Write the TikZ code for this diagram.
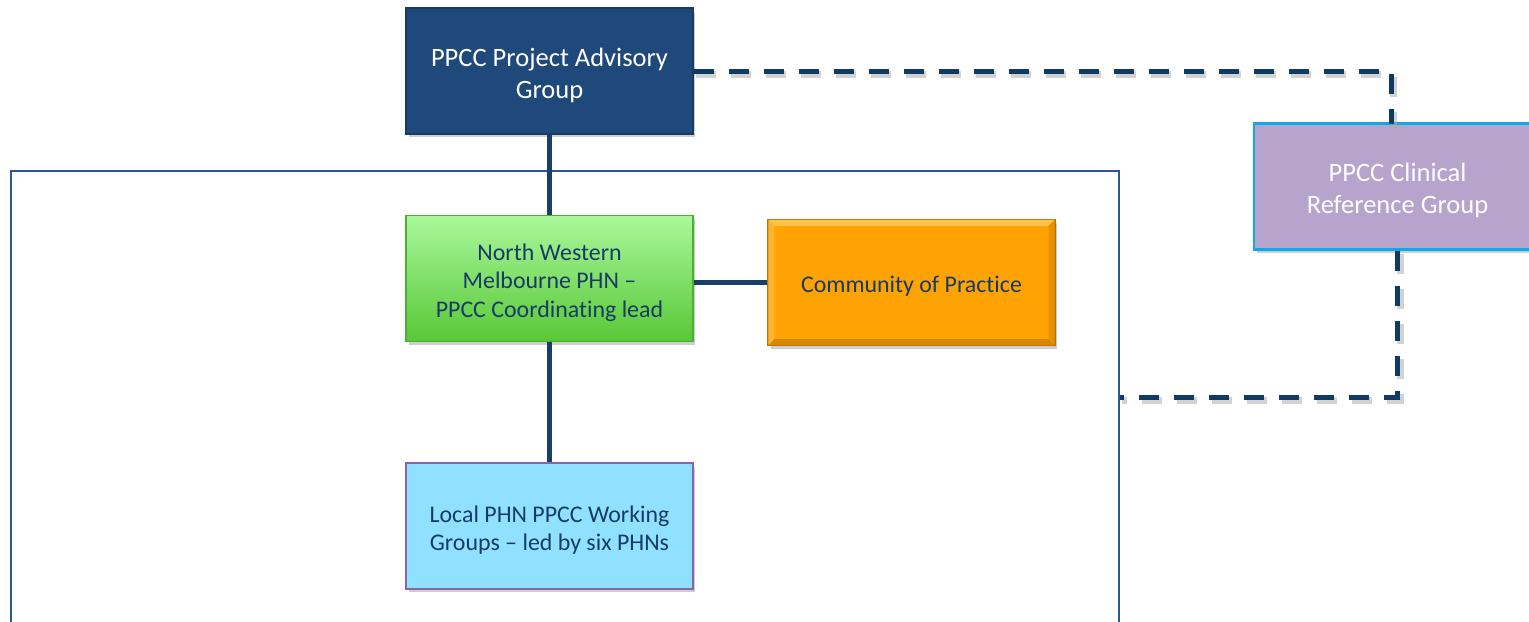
\documentclass[tikz,border=0pt]{standalone}
\usepackage{fontspec}
\setmainfont{Carlito}[Ligatures={NoCommon}]
\usetikzlibrary{shadows}
\definecolor{advblue}{HTML}{1F487B}
\definecolor{linkblue}{HTML}{173F68}
\definecolor{dashblue}{HTML}{0E3A63}
\definecolor{textnavy}{HTML}{163C66}
\definecolor{frameblue}{HTML}{2C5897}
\definecolor{greentop}{HTML}{AAF89C}
\definecolor{greenbot}{HTML}{58C736}
\definecolor{greenedge}{HTML}{4FAE31}
\definecolor{orangefill}{HTML}{FFA305}
\definecolor{orangelight}{HTML}{FFC24A}
\definecolor{orangedark}{HTML}{D98600}
\definecolor{orangeedge}{HTML}{B8740A}
\definecolor{skyfill}{HTML}{8FE1FF}
\definecolor{skyedge}{HTML}{8A63A8}
\definecolor{lilac}{HTML}{B6A4CC}
\definecolor{cyanedge}{HTML}{10A8E8}
\begin{document}
\begin{tikzpicture}[x=0.02cm,y=-0.02cm,
  box/.style={rectangle, minimum width=5.74cm, minimum height=2.52cm,
    inner sep=0pt, line width=0.8pt,
    drop shadow={shadow xshift=0.05cm, shadow yshift=-0.07cm, opacity=0.35, fill=black!55}},
  boxtext/.style={align=center, inner sep=0pt},
  bigtext/.style={boxtext, font=\fontsize{15.1}{18.2}\selectfont},
  smalltext/.style={boxtext, font=\fontsize{13.6}{16.2}\selectfont},
  link/.style={line width=0.1cm, draw=linkblue},
  dashlink/.style={line width=0.1cm, draw=dashblue, dash pattern=on 0.4cm off 0.3cm},
  dashshade/.style={line width=0.14cm, draw=black!35, opacity=0.5, dash pattern=on 0.4cm off 0.3cm}]
\useasboundingbox (0,0) rectangle (1529,622);
\fill[white] (0,0) rectangle (1529,622);

% outer frame around the PHN network
\node[rectangle, draw=frameblue, line width=0.04cm, fill=white, anchor=north west,
  minimum width=22.16cm, minimum height=9.6cm, inner sep=0pt,
  drop shadow={shadow xshift=0.03cm, shadow yshift=-0.06cm, opacity=0.25, fill=black!40}]
  (frame) at (10,170) {};

% boxes
\node[box, fill=advblue, draw=advblue!80!black] (pag) at (549.5,71) {};
\node[box, top color=greentop, bottom color=greenbot, draw=greenedge] (nwm) at (549.5,278.5) {};
\node[box, fill=orangefill, draw=orangeedge] (cop) at (911.5,282.5) {};
\node[box, fill=skyfill, draw=skyedge] (lwg) at (549.5,526) {};
\node[box, fill=lilac, draw=cyanedge, line width=1.2pt] (crg) at (1397.5,186.5) {};

% bevelled rim of the community box
\fill[orangelight] ([shift={(0.02cm,-0.02cm)}]cop.north west) -- ([shift={(-0.02cm,-0.02cm)}]cop.north east)
  -- ([shift={(-0.14cm,-0.14cm)}]cop.north east) -- ([shift={(0.14cm,-0.14cm)}]cop.north west) -- cycle;
\fill[orangelight!60!orangefill] ([shift={(0.02cm,-0.02cm)}]cop.north west) -- ([shift={(0.14cm,-0.14cm)}]cop.north west)
  -- ([shift={(0.14cm,0.14cm)}]cop.south west) -- ([shift={(0.02cm,0.02cm)}]cop.south west) -- cycle;
\fill[orangedark] ([shift={(0.02cm,0.02cm)}]cop.south west) -- ([shift={(-0.02cm,0.02cm)}]cop.south east)
  -- ([shift={(-0.14cm,0.14cm)}]cop.south east) -- ([shift={(0.14cm,0.14cm)}]cop.south west) -- cycle;
\fill[orangedark!60!orangefill] ([shift={(-0.02cm,-0.02cm)}]cop.north east) -- ([shift={(-0.14cm,-0.14cm)}]cop.north east)
  -- ([shift={(-0.14cm,0.14cm)}]cop.south east) -- ([shift={(-0.02cm,0.02cm)}]cop.south east) -- cycle;

% box texts
\node[bigtext, text=white] (pag-txt) at ([yshift=-0.08cm]pag.center) {PPCC Project Advisory\\Group};
\node[smalltext, text=textnavy] (nwm-txt) at ([yshift=-0.08cm]nwm.center)
  {North Western\\Melbourne PHN --\\PPCC Coordinating lead};
\node[smalltext, text=textnavy] (cop-txt) at ([yshift=-0.08cm]cop.center) {Community of Practice};
\node[smalltext, text=textnavy] (lwg-txt) at ([yshift=-0.08cm]lwg.center)
  {Local PHN PPCC Working\\Groups -- led by six PHNs};
\node[bigtext, text=white] (crg-txt) at ([yshift=-0.08cm]crg.center) {PPCC Clinical\\Reference Group};

% solid reporting lines
\draw[link] (pag.south) -- (nwm.north);
\draw[link] (nwm.south) -- (lwg.north);
\draw[link] (nwm.east |- cop.west) -- (cop.west);

% dashed advisory links
\coordinate (up) at (1391,124);
\coordinate (low) at (1397,397);
\begin{scope}[transform canvas={xshift=0.05cm, yshift=-0.07cm}]
  \draw[dashshade] (pag.east) -| (up);
  \draw[dashshade] (crg.south) |- (frame.east |- low);
\end{scope}
\draw[dashlink] (pag.east) -| (up);
\draw[dashlink] (crg.south) |- (frame.east |- low);
\end{tikzpicture}
\end{document}
